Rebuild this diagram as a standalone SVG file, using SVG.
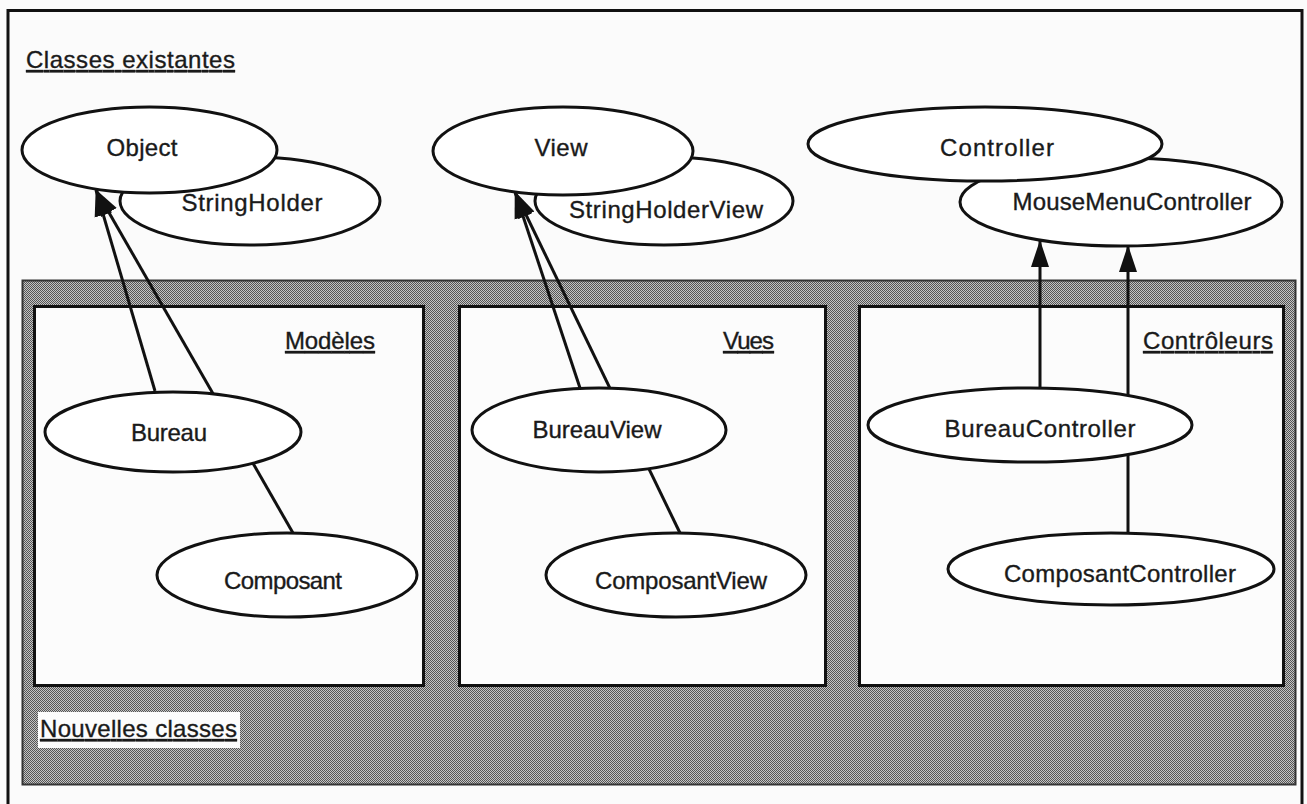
<svg xmlns="http://www.w3.org/2000/svg" width="1307" height="804" viewBox="0 0 1307 804">
<defs>
<pattern id="dots" x="0" y="0" width="2" height="2" patternUnits="userSpaceOnUse">
<rect width="2" height="2" fill="#c4c4c4"/>
<rect x="0" y="0" width="1" height="1" fill="#555"/>
<rect x="1" y="1" width="1" height="1" fill="#555"/>
</pattern>
<marker id="arr" markerUnits="userSpaceOnUse" markerWidth="27" markerHeight="20" viewBox="0 0 27 20" refX="26" refY="10" orient="auto">
<path d="M0,1 L27,10 L0,19 Z" fill="#111"/>
</marker>
<style>
.n{fill:#fff;stroke:#111;stroke-width:3}
.t{font-family:"Liberation Sans",Arial,sans-serif;font-size:24px;fill:#1a1a1a;stroke:#1a1a1a;stroke-width:0.35;text-anchor:middle}
.h{font-family:"Liberation Sans",Arial,sans-serif;font-size:24px;fill:#1a1a1a;stroke:#1a1a1a;stroke-width:0.35;text-decoration:underline}
.p{fill:#fcfcfc;stroke:#111;stroke-width:3}
.c{stroke:#111;stroke-width:3;fill:none;marker-end:url(#arr)}
</style>
</defs>
<rect x="0" y="0" width="1307" height="804" fill="#fbfbfb"/>
<rect x="8" y="10.5" width="1294" height="820" fill="none" stroke="#111" stroke-width="3"/>
<text class="h" x="26" y="68" textLength="209" lengthAdjust="spacing">Classes  existantes</text>

<g id="nouvelles-classes">
<rect x="22.5" y="280.5" width="1273" height="504" fill="url(#dots)" stroke="#333" stroke-width="2"/>
<rect x="38" y="712" width="202" height="36" fill="#fcfcfc"/>
<text class="h" x="40" y="737" textLength="197" lengthAdjust="spacing">Nouvelles classes</text>
</g>

<g id="panel-modeles">
<rect class="p" x="34.5" y="306.5" width="389" height="379"/>
<text class="h" x="285" y="349" textLength="90" lengthAdjust="spacing">Modèles</text>
</g>
<g id="panel-vues">
<rect class="p" x="459.5" y="306.5" width="366" height="379"/>
<text class="h" x="723" y="349" textLength="51" lengthAdjust="spacing">Vues</text>
</g>
<g id="panel-controleurs">
<rect class="p" x="859.5" y="306.5" width="424" height="379"/>
<text class="h" x="1143" y="349" textLength="130" lengthAdjust="spacing">Contrôleurs</text>
</g>

<g id="connectors">
<line class="c" x1="155" y1="391" x2="96" y2="190"/>
<line class="c" x1="293" y1="533" x2="96" y2="190"/>
<line class="c" x1="580" y1="388" x2="515" y2="192"/>
<line class="c" x1="680" y1="533" x2="515" y2="192"/>
<line class="c" x1="1040" y1="388" x2="1040" y2="241"/>
<line class="c" x1="1128" y1="533" x2="1128" y2="246"/>
</g>

<g id="StringHolder">
<ellipse class="n" cx="250" cy="201" rx="130" ry="44"/>
<text class="t" x="252" y="211" textLength="141" lengthAdjust="spacing">StringHolder</text>
</g>
<g id="Object">
<ellipse class="n" cx="149.5" cy="150" rx="127.5" ry="43"/>
<text class="t" x="142" y="156" textLength="71" lengthAdjust="spacing">Object</text>
</g>
<g id="StringHolderView">
<ellipse class="n" cx="664" cy="201" rx="129" ry="44"/>
<text class="t" x="666" y="218" textLength="194" lengthAdjust="spacing">StringHolderView</text>
</g>
<g id="View">
<ellipse class="n" cx="563" cy="151" rx="130" ry="44"/>
<text class="t" x="561" y="156" textLength="53" lengthAdjust="spacing">View</text>
</g>
<g id="MouseMenuController">
<ellipse class="n" cx="1121" cy="202" rx="161" ry="44"/>
<text class="t" x="1132" y="210" textLength="239" lengthAdjust="spacing">MouseMenuController</text>
</g>
<g id="Controller">
<ellipse class="n" cx="985" cy="144" rx="177" ry="37"/>
<text class="t" x="997" y="156" textLength="114" lengthAdjust="spacing">Controller</text>
</g>

<g id="Bureau">
<ellipse class="n" cx="173" cy="432" rx="128" ry="40"/>
<text class="t" x="169" y="441" textLength="76" lengthAdjust="spacing">Bureau</text>
</g>
<g id="Composant">
<ellipse class="n" cx="287" cy="575" rx="130" ry="42"/>
<text class="t" x="283" y="589" textLength="118" lengthAdjust="spacing">Composant</text>
</g>
<g id="BureauView">
<ellipse class="n" cx="599" cy="430" rx="127" ry="42"/>
<text class="t" x="597" y="438" textLength="129" lengthAdjust="spacing">BureauView</text>
</g>
<g id="ComposantView">
<ellipse class="n" cx="676" cy="575" rx="130" ry="42"/>
<text class="t" x="681" y="589" textLength="172" lengthAdjust="spacing">ComposantView</text>
</g>
<g id="BureauController">
<ellipse class="n" cx="1030" cy="425" rx="162" ry="37"/>
<text class="t" x="1040" y="437" textLength="191" lengthAdjust="spacing">BureauController</text>
</g>
<g id="ComposantController">
<ellipse class="n" cx="1111" cy="569" rx="163" ry="36"/>
<text class="t" x="1120" y="582" textLength="232" lengthAdjust="spacing">ComposantController</text>
</g>
</svg>
